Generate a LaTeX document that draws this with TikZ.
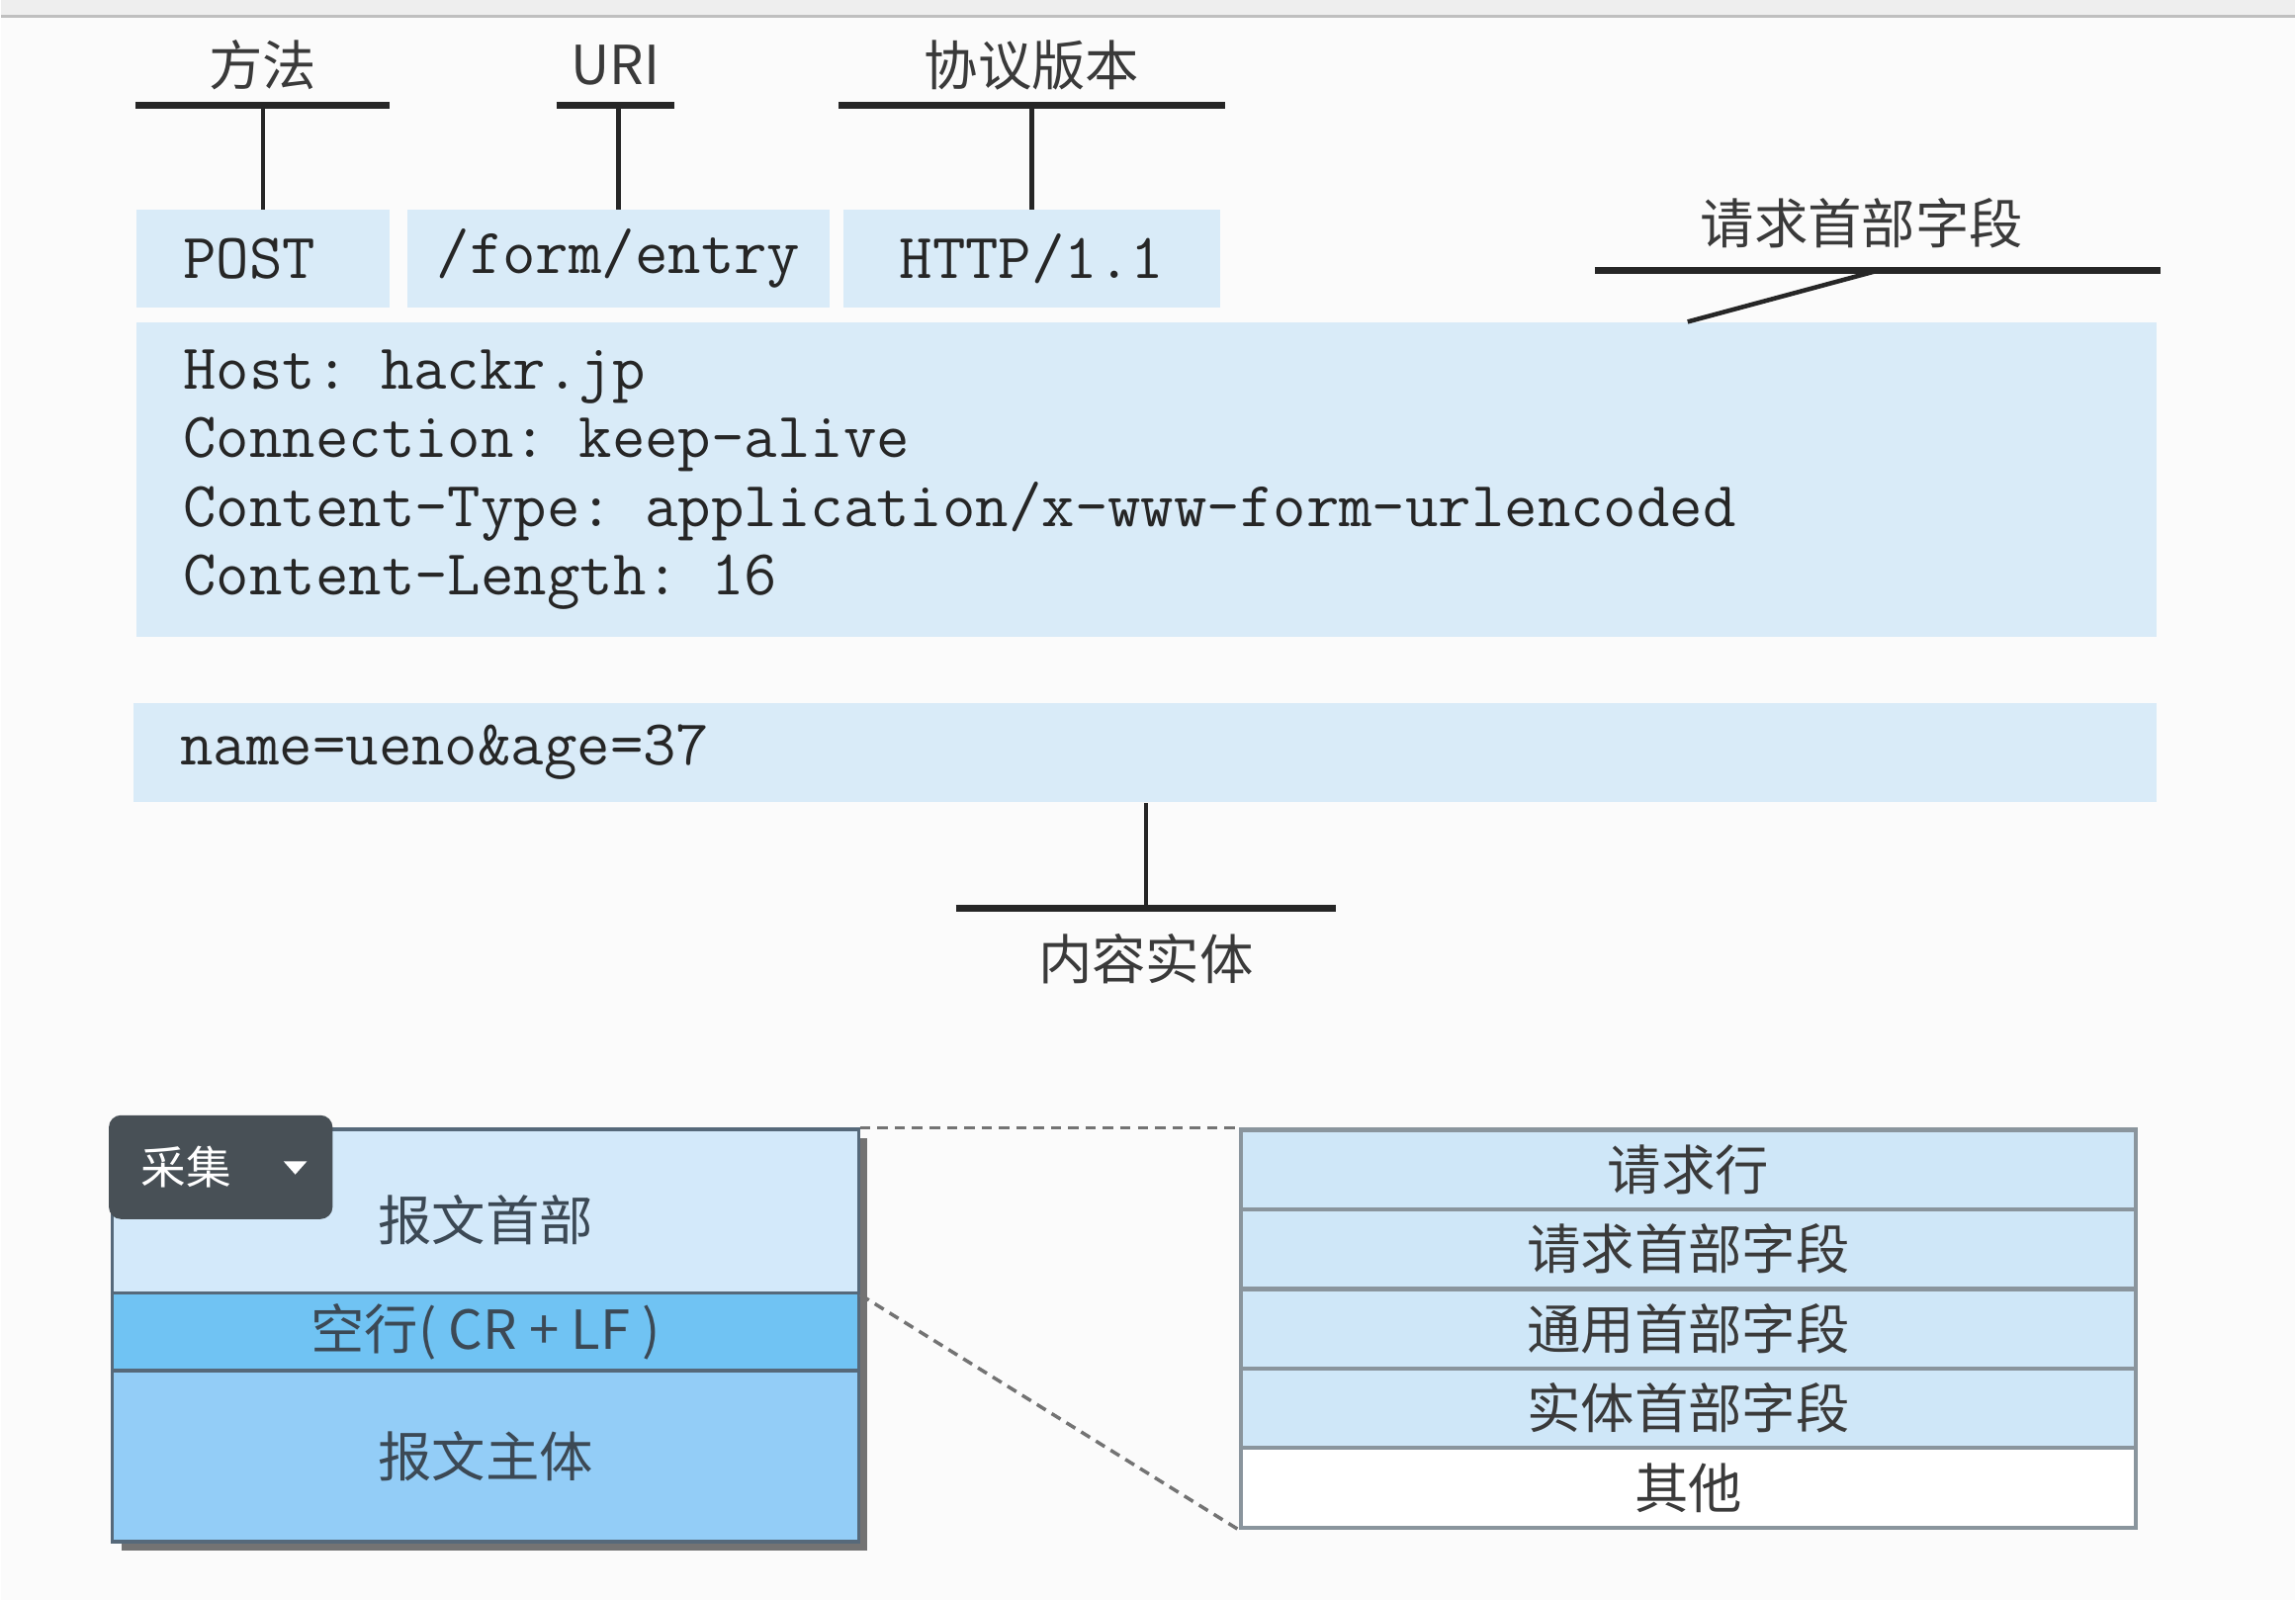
\documentclass[tikz,border=0pt]{standalone}
\usepackage{fontspec}
\setmainfont{Noto Sans CJK SC}
\newfontfamily\cjk{Noto Sans CJK SC}
\newfontfamily\msgmono{Latin Modern Mono}
\usepackage{tikz}
\usetikzlibrary{positioning, shadows, calc}
\definecolor{pagebg}{HTML}{FBFBFB}
\definecolor{stripcol}{HTML}{EEEEEE}
\definecolor{cellblue}{HTML}{D9EBF8}
\definecolor{inkcol}{HTML}{3A3A3A}
\definecolor{headblue}{HTML}{D3E9FA}
\definecolor{crlfblue}{HTML}{70C3F3}
\definecolor{bodyblue}{HTML}{93CDF7}
\definecolor{framecol}{HTML}{56697A}
\definecolor{rowframe}{HTML}{8A959D}
\definecolor{rowblue}{HTML}{CFE7F8}
\definecolor{btncol}{HTML}{485056}
\newlength{\px}
\setlength{\px}{0.014809cm}
\tikzset{
  % light blue cell of the sample request
  msgcell/.style={fill=cellblue, inner sep=0pt, anchor=north west,
                  font=\msgmono\fontsize{18.5}{19.8}\selectfont, text=black!85},
  % caption sitting on a black bar
  calllabel/.style={inner sep=0pt, font=\cjk\fontsize{15.5}{18}\selectfont, text=inkcol},
  calloutbar/.style={line width=2pt, black!85},
  calloutstem/.style={line width=1.3pt, black!85},
  % blocks of the message layout
  msgblock/.style={draw=framecol, line width=0.9pt, fill=#1, inner sep=0pt,
                   anchor=north west, minimum width=510\px,
                   font=\cjk\fontsize{15.5}{18}\selectfont, text=framecol!70!black,
                   drop shadow={shadow xshift=2.5pt, shadow yshift=-2.5pt,
                                fill=black!55, opacity=1}},
  fieldrow/.style={draw=rowframe, line width=1.2pt, fill=#1, anchor=north west,
                   inner sep=0pt, minimum width=612\px, minimum height=54.4\px,
                   font=\cjk\fontsize{15.5}{18}\selectfont, text=inkcol},
  zoomline/.style={dash pattern=on 3pt off 2pt, line width=1pt, black!55},
  btnbox/.style={fill=btncol, rounded corners=3.5pt, anchor=north west, inner ysep=0pt,
                 inner xsep=22\px, text width=109\px, minimum height=71\px,
                 align=left, font=\cjk\fontsize{13}{15}\selectfont, text=white},
}

\begin{document}
\begin{tikzpicture}[x=0.014809cm, y=-0.014809cm]
  \fill[pagebg] (0,0) rectangle (1568,1094);
  \fill[stripcol] (0,0) rectangle (1568,11);
  \draw[black!25, line width=0.8pt] (0,11) -- (1568,11);
  \useasboundingbox (0,0) rectangle (1568,1094);

  % request line
  \node[msgcell, minimum width=173\px, minimum height=67\px, text width=109\px,
        inner xsep=32\px, align=left] (post) at (92,143) {POST};
  \node[msgcell, minimum width=289\px, minimum height=67\px] (uri) at (277,143) {/form/entry};
  \node[msgcell, minimum width=258\px, minimum height=67\px] (ver) at (575,143) {HTTP/1.1};

  % header fields
  \node[msgcell, minimum height=215\px, text width=1317\px, inner xsep=32\px,
        align=left] (hdr) at (92,220)
    {Host: hackr.jp\\Connection: keep-alive\\
     Content-Type: application/x-www-form-urlencoded\\Content-Length: 16};

  % entity body
  \node[msgcell, minimum height=68\px, text width=1319\px, inner xsep=32\px,
        align=left] (body) at (90,480) {name=ueno\&age=37};

  % captions over the request line
  \node[calllabel, minimum width=173\px, minimum height=54\px, anchor=south] (mlab) at (178.5,72) {方法};
  \node[calllabel, minimum width=80\px, minimum height=54\px, anchor=south] (ulab) at (420,72) {URI};
  \node[calllabel, minimum width=263\px, minimum height=54\px, anchor=south] (vlab) at (704.5,72) {协议版本};
  \foreach \lab/\cell in {mlab/post, ulab/uri, vlab/ver} {
    \draw[calloutbar] (\lab.south west) -- (\lab.south east);
    \draw[calloutstem] (\cell.north) -- (\cell.north |- \lab.south);
  }

  % caption of the header fields
  \node[calllabel, minimum width=386\px, minimum height=64\px, anchor=south] (hlab) at (1283,185)
    {\hspace*{-22\px}请求首部字段};
  \coordinate (htip) at (1153,220);
  \draw[calloutbar] (hlab.south west) -- (hlab.south east);
  \draw[calloutstem] (hlab.south) -- (htip);

  % caption of the body
  \node[calllabel, minimum width=259\px, minimum height=68\px, anchor=north] (blab) at (782.5,621) {内容实体};
  \draw[calloutbar] (blab.north west) -- (blab.north east);
  \draw[calloutstem] (blab.north) -- (blab.north |- body.south);

  % message layout
  \node[msgblock=headblue, minimum height=112\px] (msghead) at (75,771)
    {\raisebox{-20\px}[0pt][0pt]{报文首部}};
  \node[msgblock=crlfblue, minimum height=53\px] (crlf) at (75,883) {空行( CR + LF )};
  \node[msgblock=bodyblue, minimum height=117\px] (msgbody) at (75,936) {报文主体};

  % dropdown button
  \node[btnbox] (btn) at (73,762) {采集};
  \fill[white] ([shift={(-34,-4)}]btn.east) -- ([shift={(-18,-4)}]btn.east)
    -- ([shift={(-26,5)}]btn.east) -- cycle;

  % header fields in detail
  \foreach \i/\txt/\col in {0/请求行/rowblue, 1/请求首部字段/rowblue,
                            2/通用首部字段/rowblue, 3/实体首部字段/rowblue, 4/其他/white}
    \node[fieldrow=\col] (row\i) at (846,{771+54.4*\i}) {\txt};

  \draw[zoomline] (msghead.north east) -- (row0.north west);
  \draw[zoomline] (msghead.south east) -- (row4.south west);
\end{tikzpicture}
\end{document}
